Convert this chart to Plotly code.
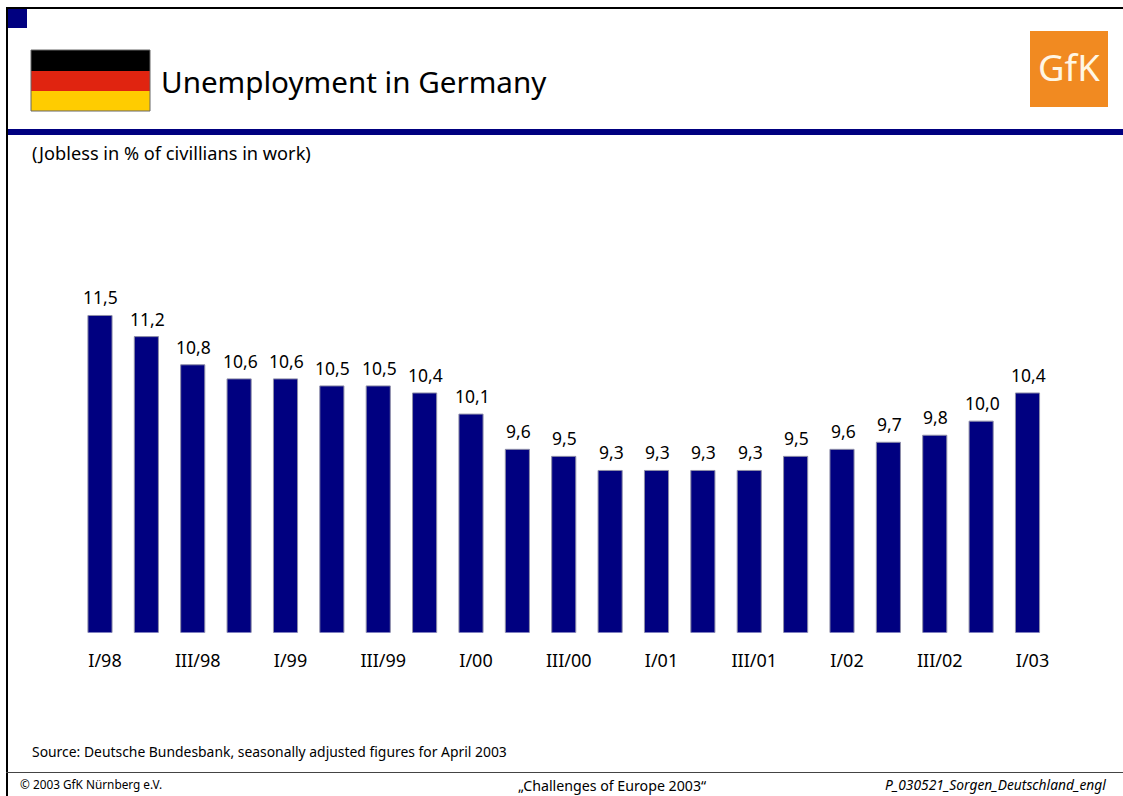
import plotly.graph_objects as go

# Quarterly unemployment rate, Germany
quarters = ["I/98", "II/98", "III/98", "IV/98", "I/99", "II/99", "III/99", "IV/99",
            "I/00", "II/00", "III/00", "IV/00", "I/01", "II/01", "III/01", "IV/01",
            "I/02", "II/02", "III/02", "IV/02", "I/03"]
rates = [11.5, 11.2, 10.8, 10.6, 10.6, 10.5, 10.5, 10.4, 10.1, 9.6, 9.5,
         9.3, 9.3, 9.3, 9.3, 9.5, 9.6, 9.7, 9.8, 10.0, 10.4]
labelled_quarters = quarters[::2]

W, H = 1123, 796
NAVY = "#000080"
FONT = "Noto Sans"


def px(x):
    return x / W


def py(y):
    return 1 - y / H


def box(x0, y0, x1, y1, fill, line=None, lw=0):
    return dict(type="rect", xref="paper", yref="paper", layer="above",
                x0=px(x0), x1=px(x1), y0=py(y0), y1=py(y1), fillcolor=fill,
                line=dict(color=line or fill, width=lw))


def note(x, y, text, size, anchor="left", color="#000000", style="normal"):
    return dict(xref="paper", yref="paper", x=px(x), y=py(y), text=text, showarrow=False,
                xanchor=anchor, yanchor="middle",
                font=dict(family=FONT, size=size, color=color, style=style))


fig = go.Figure(go.Bar(
    x=quarters, y=rates, width=0.52, cliponaxis=True,
    marker=dict(color=NAVY, line=dict(color="#8f8fa8", width=1)),
))

shapes = [
    box(6, 7, 8, 796, "#000000"),            # frame, left
    box(6, 7, 1123, 9, "#000000"),           # frame, top
    box(8, 9, 27, 28, NAVY),                 # corner square
    box(8, 129, 1123, 135, NAVY),            # header rule
    box(6, 772, 1123, 773, "#444444"),       # footer rule
    box(31, 50, 150, 71, "#000000"),         # flag
    box(31, 71, 150, 91, "#E02410"),
    box(31, 91, 150, 111, "#FFCC00"),
    dict(type="rect", xref="paper", yref="paper", layer="above",
         x0=px(31), x1=px(150), y0=py(50), y1=py(111),
         line=dict(color="#666666", width=1)),
    box(1030, 31, 1108, 107, "#F18A21"),     # logo plate
]

annotations = [
    note(159, 82, "Unemployment in Germany", 29.6),
    note(30, 153, "(Jobless in % of civillians in work)", 18.2),
    note(30, 751, "Source: Deutsche Bundesbank, seasonally adjusted figures for April 2003", 13.9),
    note(18, 784, "© 2003 GfK Nürnberg e.V.", 11.8),
    note(611.5, 785.5, "„Challenges of Europe 2003“", 14.2, anchor="center"),
    note(1108, 784, "P_030521_Sorgen_Deutschland_engl", 13.8, anchor="right", style="italic"),
    note(1068.5, 67, "GfK", 36.5, anchor="center", color="#FFF6E4"),
]

# Value labels sit just above each bar, with a decimal comma
annotations += [
    dict(x=q, y=r, xref="x", yref="y", text=f"{r:.1f}".replace(".", ","), showarrow=False,
         xanchor="center", yanchor="bottom", xshift=1, yshift=4,
         font=dict(family=FONT, size=17.5, color="#000000"))
    for q, r in zip(quarters, rates)
]

fig.update_layout(
    width=W, height=H, autosize=False,
    margin=dict(l=0, r=0, t=0, b=0),
    paper_bgcolor="#FFFFFF", plot_bgcolor="#FFFFFF",
    showlegend=False,
    shapes=shapes, annotations=annotations,
    xaxis=dict(
        domain=[px(76.8), px(1050.7)], range=[-0.5, 20.5], type="category",
        categoryorder="array", categoryarray=quarters,
        tickmode="array", tickvals=labelled_quarters, ticktext=labelled_quarters,
        showgrid=False, zeroline=False, showline=False, ticks="",
        tickangle=0, ticklabelshift=5, ticklabelstandoff=15,
        tickfont=dict(family=FONT, size=18, color="#000000"),
    ),
    yaxis=dict(
        domain=[py(632.5), py(273.2)], range=[7, 12.1],
        visible=False, showgrid=False, zeroline=False,
    ),
)

fig.write_html("out.html")
